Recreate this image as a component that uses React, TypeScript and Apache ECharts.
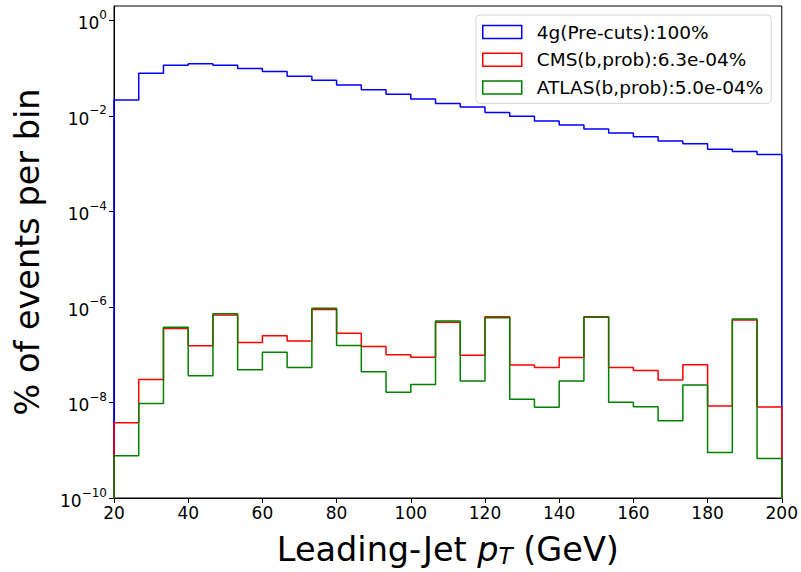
import React, { useEffect, useRef } from "react";
import * as echarts from "echarts";

// Bin edges (GeV), 27 bins from 20 to 200
const binEdges = [
  20, 26.667, 33.333, 40, 46.667, 53.333, 60, 66.667, 73.333, 80, 86.667, 93.333,
  100, 106.667, 113.333, 120, 126.667, 133.333, 140, 146.667, 153.333, 160,
  166.667, 173.333, 180, 186.667, 193.333, 200,
];

const precutsValues = [
  0.0216, 0.078, 0.1146, 0.124, 0.1146, 0.098, 0.085, 0.0678, 0.056, 0.0441,
  0.0354, 0.0283, 0.0226, 0.0182, 0.0154, 0.0118, 0.0098, 0.0078, 0.00644,
  0.00532, 0.0044, 0.00364, 0.003, 0.0026, 0.002, 0.0018, 0.00156,
];

const cmsValues = [
  3.78e-9, 3.04e-8, 3.52e-7, 1.54e-7, 6.76e-7, 1.8e-7, 2.48e-7, 1.93e-7, 8.87e-7,
  2.82e-7, 1.49e-7, 1.0e-7, 8.8e-8, 4.77e-7, 9.7e-8, 6.24e-7, 6.12e-8, 5.4e-8,
  8.7e-8, 6.24e-7, 5.4e-8, 4.67e-8, 2.94e-8, 6.2e-8, 8.4e-9, 5.3e-7, 8.0e-9,
];

const atlasValues = [
  7.7e-10, 9.5e-9, 3.76e-7, 3.62e-8, 7.2e-7, 4.83e-8, 1.12e-7, 5.4e-8, 9.4e-7,
  1.56e-7, 4.39e-8, 1.63e-8, 2.39e-8, 5.07e-7, 2.8e-8, 5.94e-7, 1.17e-8, 7.9e-9,
  2.8e-8, 6.06e-7, 1.01e-8, 8.1e-9, 4.16e-9, 2.32e-8, 9.0e-10, 5.58e-7, 6.7e-10,
];

const seriesNames = [
  "4g(Pre-cuts):100%",
  "CMS(b,prob):6.3e-04%",
  "ATLAS(b,prob):5.0e-04%",
];
const seriesColors = ["#0000ff", "#ff0000", "#008000"];

const yTickValues = [1e-10, 1e-8, 1e-6, 1e-4, 1e-2, 1];
const xTickInterval = 20;

const FLOOR = 1e-13;

function stepData(values: number[]) {
  const pts: [number, number][] = [[binEdges[0], FLOOR]];
  values.forEach((v, i) => pts.push([binEdges[i], v]));
  const last = binEdges[binEdges.length - 1];
  pts.push([last, values[values.length - 1]]);
  pts.push([last, FLOOR]);
  return pts;
}

const FONT = "DejaVu Sans";

export default function App() {
  const ref = useRef<HTMLDivElement>(null);
  useEffect(() => {
    document.body.style.margin = "0";
    if (!ref.current) return;
    const chart = echarts.init(ref.current, undefined, { renderer: "svg" });
    const allValues = [precutsValues, cmsValues, atlasValues];
    chart.setOption({
      animation: false,
      backgroundColor: "#ffffff",
      textStyle: { fontFamily: FONT },
      grid: {
        left: 114,
        right: 19,
        top: 6,
        bottom: 69,
        show: true,
        borderColor: "#000",
        borderWidth: 1,
        backgroundColor: "transparent",
      },
      legend: {
        orient: "vertical",
        left: 476,
        top: 15,
        padding: [6, 8, 5, 6],
        itemGap: 5.7,
        itemWidth: 39,
        itemHeight: 13,
        icon: "rect",
        backgroundColor: "rgba(255,255,255,0.8)",
        borderColor: "#d6d6d6",
        borderWidth: 1,
        borderRadius: 4,
        textStyle: {
          fontFamily: FONT,
          fontSize: 18.5,
          color: "#000",
          padding: [0, 0, 0, 10],
          lineHeight: 22,
        },
        data: seriesNames.map((n, i) => ({
          name: n,
          itemStyle: {
            color: "rgba(0,0,0,0)",
            borderColor: seriesColors[i],
            borderWidth: 1.5,
          },
        })),
      },
      xAxis: {
        type: "value",
        min: 20,
        max: 200,
        interval: xTickInterval,
        name: "{t|Leading-Jet }{i|p}{sub|T}{t| (GeV)}",
        nameLocation: "middle",
        nameGap: 34,
        nameTextStyle: {
          rich: {
            t: { fontFamily: FONT, fontSize: 33.5, color: "#000" },
            i: { fontFamily: FONT, fontSize: 33.5, fontStyle: "italic", color: "#000" },
            sub: {
              fontFamily: FONT,
              fontSize: 23,
              fontStyle: "italic",
              color: "#000",
              verticalAlign: "bottom",
              padding: [12, 0, 0, 0],
            },
          },
        },
        axisLine: { show: true, onZero: false, lineStyle: { color: "#000", width: 1 } },
        axisTick: { show: true, length: 5, lineStyle: { color: "#000", width: 1 } },
        axisLabel: { fontFamily: FONT, fontSize: 17, color: "#000", margin: 6 },
        splitLine: { show: false },
      },
      yAxis: {
        type: "log",
        logBase: 10,
        min: 1e-10,
        max: 2,
        name: "% of events per bin",
        nameLocation: "middle",
        nameGap: 70,
        nameTextStyle: { fontFamily: FONT, fontSize: 33.5, color: "#000" },
        axisLine: { show: true, lineStyle: { color: "#000", width: 1 } },
        axisTick: {
          show: true,
          length: 5,
          lineStyle: { color: "#000", width: 1 },
          customValues: yTickValues,
        },
        minorTick: { show: false },
        splitLine: { show: false },
        axisLabel: {
          customValues: yTickValues,
          margin: 7,
          formatter: (v: number) => {
            const e = Math.round(Math.log10(v));
            const s = (e < 0 ? "\u2212" : "") + Math.abs(e);
            return `{b|10}{s|${s}}`;
          },
          rich: {
            b: { fontFamily: FONT, fontSize: 17, color: "#000", padding: [6, 0, 0, 0] },
            s: { fontFamily: FONT, fontSize: 12, color: "#000", verticalAlign: "top" },
          },
        },
      },
      series: allValues.map((vals, i) => ({
        name: seriesNames[i],
        type: "line",
        step: "end",
        data: stepData(vals),
        symbol: "none",
        showSymbol: false,
        clip: true,
        lineStyle: { color: seriesColors[i], width: 1.5 },
        itemStyle: { color: seriesColors[i] },
        z: 2 + i,
      })),
    });
    return () => chart.dispose();
  }, []);
  return <div ref={ref} style={{ width: 801, height: 572 }} />;
}
